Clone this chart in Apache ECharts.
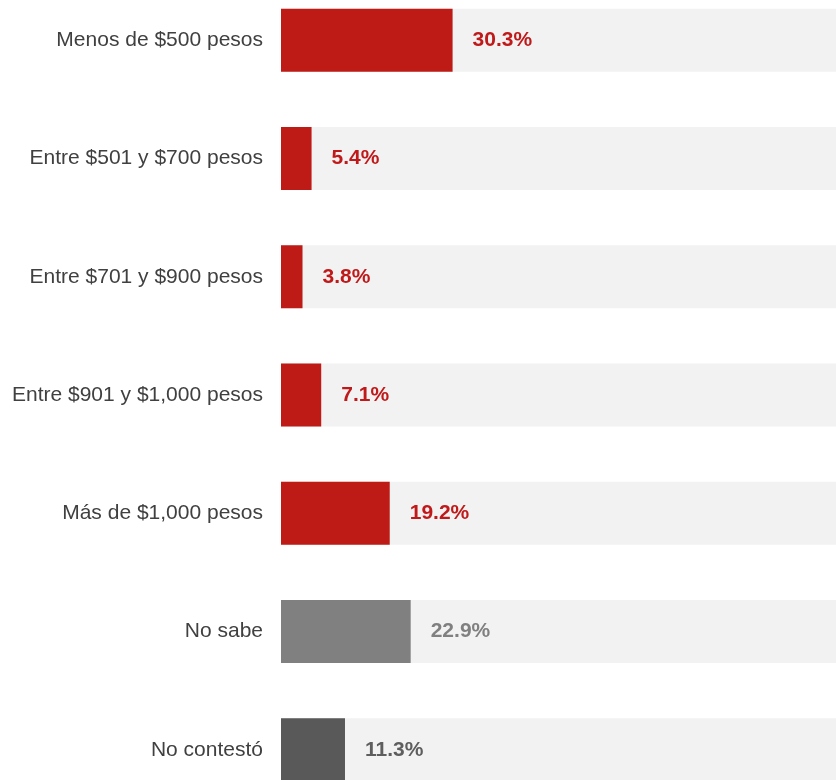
<!DOCTYPE html>
<html>
<head>
<meta charset="utf-8">
<script src="https://cdn.jsdelivr.net/npm/echarts@6/dist/echarts.min.js"></script>
<style>
html,body{margin:0;padding:0;background:#fff;overflow:hidden;}
#wrap{width:836px;height:780px;overflow:hidden;position:relative;}
#main{width:836px;height:828px;position:absolute;left:0;top:-18.6px;}
</style>
</head>
<body>
<div id="wrap"><div id="main"></div></div>
<script>
const categories = ["Menos de $500 pesos","Entre $501 y $700 pesos","Entre $701 y $900 pesos","Entre $901 y $1,000 pesos","Más de $1,000 pesos","No sabe","No contestó"];
const values = [30.3, 5.4, 3.8, 7.1, 19.2, 22.9, 11.3];
const barColors = ["#BE1B16","#BE1B16","#BE1B16","#BE1B16","#BE1B16","#808080","#595959"];
const labelColors = ["#C0191A","#C0191A","#C0191A","#C0191A","#C0191A","#808080","#5E5E5E"];

const chart = echarts.init(document.getElementById('main'), null, {renderer:'canvas'});
chart.setOption({
  animation:false,
  grid:{left:281, right:0, top:0, bottom:0, containLabel:false},
  xAxis:{type:'value', min:0, max:98, show:false},
  yAxis:{type:'category', data:categories, inverse:true,
    axisLine:{show:false}, axisTick:{show:false}, splitLine:{show:false},
    axisLabel:{margin:18, fontSize:21, color:'#404040', fontFamily:'Liberation Sans, Arial, sans-serif'}},
  series:[{
    type:'bar',
    barWidth:63,
    showBackground:true,
    backgroundStyle:{color:'#F2F2F2'},
    data: values.map((v,i)=>({value:v, itemStyle:{color:barColors[i]}, label:{color:labelColors[i]}})),
    label:{show:true, position:'right', distance:20, fontSize:21, fontWeight:'bold',
      fontFamily:'Liberation Sans, Arial, sans-serif', formatter: p => p.value.toFixed(1) + '%'}
  }]
});
</script>
</body>
</html>
